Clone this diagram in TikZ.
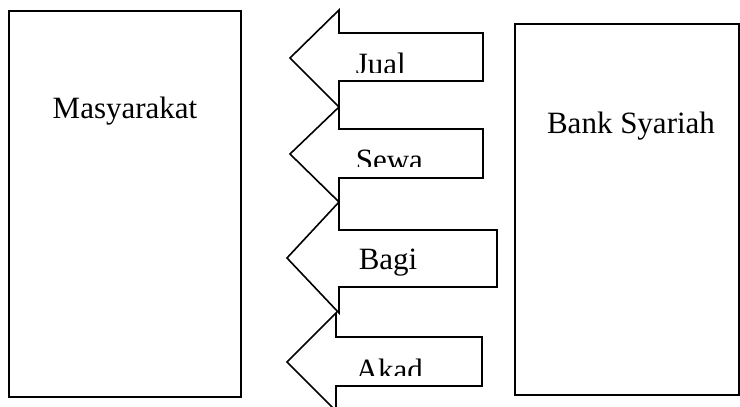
\documentclass[tikz,border=0pt]{standalone}
\usepackage{fontspec}
\setmainfont{Liberation Serif}
\begin{document}
\begin{tikzpicture}[x=0.5pt, y=-0.5pt, line width=0.8pt, line join=miter, font=\fontsize{15.5}{18}\selectfont]
\tikzset{every node/.style={inner sep=0pt, anchor=base}}
\clip (0,0) rectangle (740,407);
% kotak kiri dan kanan
\draw (9,11) rectangle (241,397);
\node (masy) at (125,118) {Masyarakat};
\draw (515,24) rectangle (739,395);
\node (bank) at (631,133) {Bank Syariah};
% panah
\draw (290,58)--(339,10)--(339,33)--(483,33)--(483,81)--(339,81)--(339,107)--cycle;
\draw (290,154)--(339,107)--(339,129)--(483,129)--(483,178)--(339,178)--(339,202)--cycle;
\draw (287,258)--(339,202)--(339,230)--(497,230)--(497,287)--(339,287)--(339,313)--cycle;
\draw (287,362)--(336,313)--(336,337)--(482,337)--(482,386)--(336,386)--(336,411)--cycle;
\begin{scope}
\clip (340,34) rectangle (482,72);
\node[anchor=base west] (jual) at (355,75) {Jual};
\end{scope}
\begin{scope}
\clip (340,130) rectangle (482,166);
\node[anchor=base west] (sewa) at (355,170) {Sewa};
\end{scope}
\node[anchor=base west] (bagi) at (358,269) {Bagi};
\begin{scope}
\clip (337,338) rectangle (481,375);
\node[anchor=base west] (akad) at (355,380) {Akad};
\end{scope}
\end{tikzpicture}
\end{document}
